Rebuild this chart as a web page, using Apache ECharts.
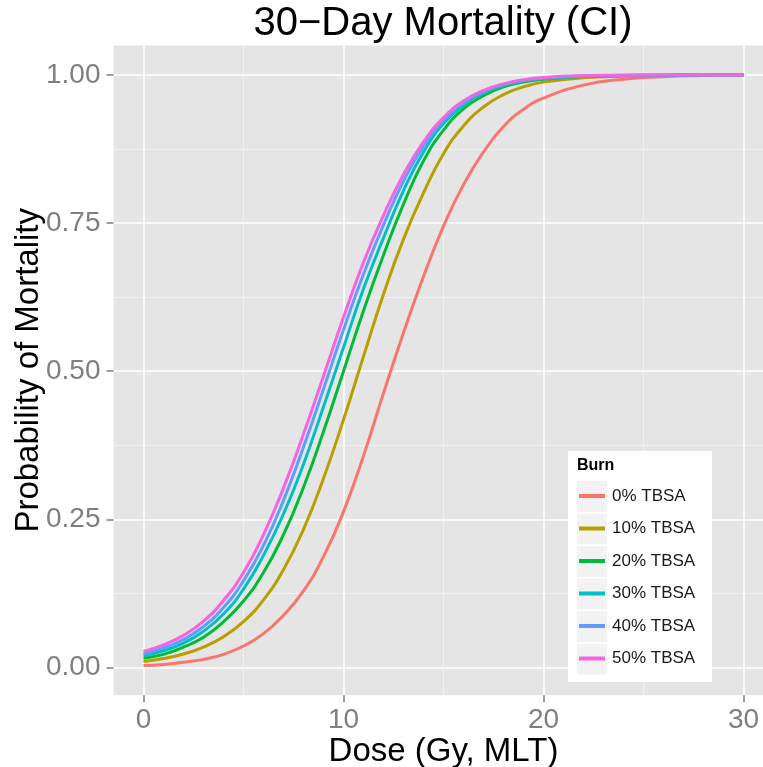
<!DOCTYPE html>
<html>
<head>
<meta charset="utf-8">
<script src="https://cdn.jsdelivr.net/npm/echarts@6/dist/echarts.min.js"></script>
<style>
html,body{margin:0;padding:0;background:#fff}
#chart{width:763px;height:767px}
</style>
</head>
<body>
<div id="chart"></div>
<script>
// dose axis (Gy, MLT) and the six burn curves
const dose = [0,1,2,3,4,5,6,7,8,9,10,11,12,13,14,15,16,17,18,19,20,22,24,26,28,30];
const burnLevels = ['0% TBSA','10% TBSA','20% TBSA','30% TBSA','40% TBSA','50% TBSA'];

const tbsa0  = [0.003,0.005,0.0085,0.0135,0.022,0.036,0.057,0.088,0.129,0.187,0.263,0.357,0.463,0.565,0.660,0.745,0.815,0.870,0.913,0.942,0.961,0.983,0.993,0.997,0.999,1.000];
const tbsa10 = [0.0097,0.0148,0.0225,0.0342,0.0517,0.0773,0.114,0.165,0.233,0.319,0.418,0.525,0.630,0.723,0.801,0.867,0.914,0.946,0.967,0.980,0.988,0.9955,0.998,0.9993,0.9997,1.000];
const tbsa20 = [0.0155,0.022,0.034,0.051,0.077,0.112,0.160,0.224,0.304,0.398,0.500,0.602,0.696,0.782,0.855,0.907,0.943,0.965,0.980,0.988,0.993,0.9975,0.9991,0.9997,1.000,1.000];
const tbsa30 = [0.020,0.028,0.041,0.061,0.090,0.132,0.189,0.259,0.343,0.440,0.540,0.639,0.725,0.805,0.870,0.918,0.949,0.970,0.982,0.990,0.994,0.998,0.9993,0.9998,1.000,1.000];
const tbsa40 = [0.023,0.033,0.047,0.069,0.101,0.146,0.206,0.282,0.372,0.470,0.570,0.664,0.747,0.821,0.880,0.923,0.953,0.972,0.984,0.991,0.995,0.9983,0.9994,1.000,1.000,1.000];
const tbsa50 = [0.027,0.038,0.054,0.078,0.113,0.160,0.224,0.303,0.394,0.492,0.591,0.684,0.763,0.832,0.887,0.928,0.956,0.974,0.985,0.992,0.996,0.9989,0.9997,1.000,1.000,1.000];

const xTicks = [0,10,20,30];
const xMinor = [5,15,25];
const yTicks = [0,0.25,0.5,0.75,1];
const yMinor = [0.125,0.375,0.625,0.875];

const curves = [tbsa0,tbsa10,tbsa20,tbsa30,tbsa40,tbsa50];
const colors = ['#F8766D','#B79F00','#00BA38','#00BFC4','#619CFF','#F564E3'];

const FONT = '"Liberation Sans", Arial, sans-serif';
const GREY = '#7F7F7F';

let dom = document.getElementById('chart');
let chart = echarts.init(dom, null, {renderer:'canvas'});

let series = burnLevels.map((name, i) => ({
    name: name,
    type: 'line',
    data: dose.map((d, j) => [d, curves[i][j]]),
    smooth: 0.5,
    showSymbol: false,
    symbol: 'none',
    lineStyle: {width: 3, color: colors[i]},
    itemStyle: {color: colors[i]},
    emphasis: {disabled: true}
}));

// legend frame + key backgrounds (ggplot style)
let graphics = [
    {type:'rect', z:5, shape:{x:568, y:451, width:144, height:231}, style:{fill:'#fff'}},
    {type:'text', z:6, x:577, y:466, style:{text:'Burn', font:'bold 16px ' + FONT, fill:'#000', textVerticalAlign:'middle'}},
    {type:'text', z:6, x:443, y:24, style:{text:'30−Day Mortality (CI)', font:'40px ' + FONT, fill:'#000', textAlign:'center', textVerticalAlign:'middle'}}
];
burnLevels.forEach((n, i) => {
    graphics.push({type:'rect', z:6, shape:{x:577, y:481 + i * 32.5, width:30, height:31}, style:{fill:'#F2F2F2'}});
});

let options = {
    animation: false,
    grid: {
        left: 113.5, top: 45.4, width: 660, height: 649.8,
        show: true, backgroundColor: '#E5E5E5', borderWidth: 0,
        containLabel: false, outerBoundsMode: 'none'
    },
    xAxis: [{
        type: 'value', min: -1.5, max: 31.5, position: 'bottom',
        axisLine: {show: false, onZero: false},
        axisTick: {show: true, length: 7, customValues: xTicks, lineStyle: {color: GREY, width: 1.5}},
        axisLabel: {customValues: xTicks, color: GREY, fontSize: 28, fontFamily: FONT, margin: 11},
        splitLine: {show: true, lineStyle: {color: '#FFFFFF', width: 1.6}},
        name: 'Dose (Gy, MLT)', nameLocation: 'middle', nameGap: 40, nameMoveOverlap: false,
        nameTextStyle: {fontSize: 33, color: '#000', fontFamily: FONT}
    }, {
        type: 'value', min: -1.5, max: 31.5, position: 'bottom',
        axisLine: {show: false, onZero: false},
        axisTick: {show: false, customValues: xMinor},
        axisLabel: {show: false},
        splitLine: {show: true, lineStyle: {color: '#F2F2F2', width: 0.9}}
    }],
    yAxis: [{
        type: 'value', min: -0.047, max: 1.05,
        axisLine: {show: false, onZero: false},
        axisTick: {show: true, length: 7, customValues: yTicks, lineStyle: {color: GREY, width: 1.5}},
        axisLabel: {customValues: yTicks, color: GREY, fontSize: 28, fontFamily: FONT, margin: 13,
            formatter: v => v.toFixed(2)},
        splitLine: {show: true, lineStyle: {color: '#FFFFFF', width: 1.6}},
        name: 'Probability of Mortality', nameLocation: 'middle', nameGap: 68, nameMoveOverlap: false,
        nameTextStyle: {fontSize: 33, color: '#000', fontFamily: FONT}
    }, {
        type: 'value', min: -0.047, max: 1.05,
        axisLine: {show: false, onZero: false},
        axisTick: {show: false, customValues: yMinor},
        axisLabel: {show: false},
        splitLine: {show: true, lineStyle: {color: '#F2F2F2', width: 0.9}}
    }],
    legend: {
        orient: 'vertical', left: 568, top: 451, z: 10,
        padding: [30, 10, 8, 11],
        itemWidth: 26, itemHeight: 4, itemGap: 2.5, icon: 'rect',
        selectedMode: false,
        textStyle: {fontSize: 17, fontFamily: FONT, color: '#1A1A1A', lineHeight: 30, padding: [0, 0, 0, 2]},
        data: burnLevels
    },
    graphic: graphics,
    series: series
};

chart.setOption(options);
</script>
</body>
</html>
